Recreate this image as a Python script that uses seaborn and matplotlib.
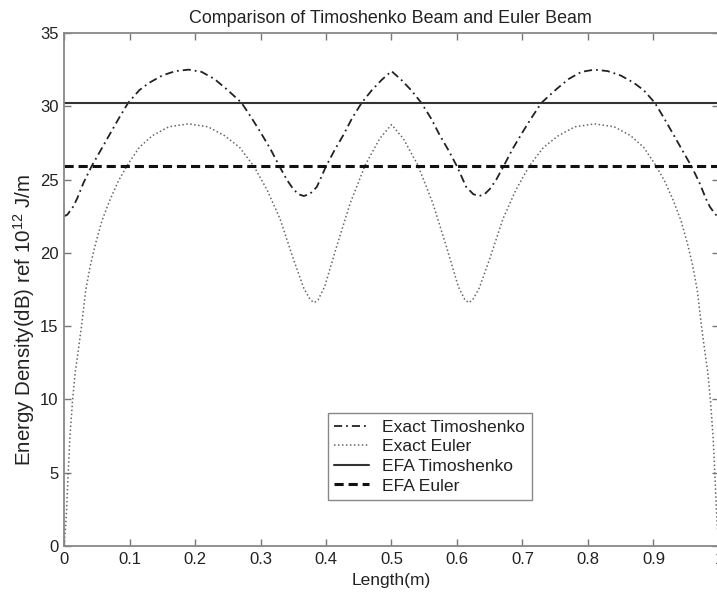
import matplotlib
matplotlib.use("Agg")
import matplotlib.pyplot as plt
import seaborn as sns
import numpy as np

# ---------------- data ----------------
timo_x = [0.000, 0.005, 0.010, 0.014, 0.020, 0.030, 0.042, 0.056, 0.070, 0.084, 0.098,
          0.115, 0.130, 0.150, 0.170, 0.190, 0.210, 0.230, 0.250, 0.271, 0.285, 0.299,
          0.315, 0.329, 0.340, 0.350, 0.358, 0.366, 0.375, 0.386, 0.400, 0.413, 0.426,
          0.440, 0.4545, 0.470, 0.485, 0.500,
          0.515, 0.530, 0.5455, 0.560, 0.574, 0.587, 0.600, 0.614, 0.625, 0.634, 0.642,
          0.650, 0.660, 0.671, 0.685, 0.701, 0.715, 0.729, 0.750, 0.770, 0.790, 0.810,
          0.830, 0.850, 0.870, 0.885, 0.902, 0.916, 0.930, 0.944, 0.958, 0.970, 0.980,
          0.986, 0.990, 0.995, 1.000]
timo_y = [22.5, 22.6, 22.9, 23.15, 23.7, 24.8, 25.9, 27.0, 28.1, 29.2, 30.24,
          31.1, 31.6, 32.1, 32.4, 32.5, 32.35, 31.85, 31.1, 30.24, 29.3, 28.3,
          27.1, 25.9, 25.0, 24.35, 24.0, 23.88, 24.0, 24.5, 25.9, 27.0, 28.0,
          29.2, 30.24, 31.1, 31.8, 32.4,
          31.8, 31.1, 30.24, 29.2, 28.0, 27.0, 25.9, 24.5, 24.0, 23.88, 24.0,
          24.35, 25.0, 25.9, 27.1, 28.3, 29.3, 30.24, 31.1, 31.85, 32.35, 32.5,
          32.4, 32.1, 31.6, 31.1, 30.24, 29.2, 28.1, 27.0, 25.9, 24.8, 23.7,
          23.15, 22.9, 22.6, 22.5]

euler_x = [0.000, 0.002, 0.004, 0.006, 0.009, 0.013, 0.017, 0.022, 0.027, 0.033, 0.040,
           0.048, 0.058, 0.070, 0.083, 0.097, 0.115, 0.135, 0.160, 0.190, 0.220, 0.245,
           0.268, 0.290, 0.310, 0.330, 0.350, 0.366, 0.376, 0.382, 0.388, 0.398, 0.416,
           0.437, 0.460, 0.482, 0.500,
           0.518, 0.540, 0.563, 0.584, 0.602, 0.612, 0.618, 0.624, 0.634, 0.650, 0.670,
           0.690, 0.710, 0.732, 0.755, 0.780, 0.810, 0.840, 0.865, 0.885, 0.903, 0.917,
           0.930, 0.942, 0.952, 0.960, 0.967, 0.973, 0.978, 0.983, 0.987, 0.991, 0.994,
           0.996, 0.998, 1.000]
euler_y = [0.0, 1.0, 2.5, 4.6, 7.4, 9.9, 11.8, 13.4, 15.1, 17.4, 19.1,
           20.6, 22.2, 23.6, 24.9, 26.0, 27.2, 28.0, 28.6, 28.8, 28.6, 28.0,
           27.2, 25.9, 24.3, 22.3, 19.6, 17.6, 16.8, 16.6, 16.8, 17.7, 20.4,
           23.4, 26.0, 27.8, 28.75,
           27.8, 26.0, 23.4, 20.4, 17.7, 16.8, 16.6, 16.8, 17.6, 19.6, 22.3,
           24.3, 25.9, 27.2, 28.0, 28.6, 28.8, 28.6, 28.0, 27.2, 26.0, 24.9,
           23.6, 22.2, 20.6, 19.1, 17.4, 15.1, 13.4, 11.8, 9.9, 7.4, 4.6,
           2.5, 1.0, 0.0]

efa_x = [0.0, 1.0]
efa_timo = [30.24, 30.24]
efa_euler = [25.9, 25.9]

x_ticks = [0, 0.1, 0.2, 0.3, 0.4, 0.5, 0.6, 0.7, 0.8, 0.9, 1]
x_tick_labels = ["0", "0.1", "0.2", "0.3", "0.4", "0.5", "0.6", "0.7", "0.8", "0.9", "1"]
y_ticks = [0, 5, 10, 15, 20, 25, 30, 35]

# ---------------- styling ----------------
sns.set_style("ticks")
plt.rcParams["font.family"] = ["Liberation Sans", "DejaVu Sans"]
plt.rcParams["mathtext.default"] = "regular"

W, H = 717, 595
fig = plt.figure(figsize=(W / 100, H / 100), dpi=100)
left_px, right_px, top_px, bottom_px = 64, 719, 33, 546
ax = fig.add_axes([left_px / W, (H - bottom_px) / H,
                   (right_px - left_px) / W, (bottom_px - top_px) / H])

sns.lineplot(x=timo_x, y=timo_y, ax=ax, color="#222222", lw=1.3,
             linestyle=(0, (4.5, 2.2, 1.0, 2.2)), label="Exact Timoshenko",
             sort=False, estimator=None)
sns.lineplot(x=euler_x, y=euler_y, ax=ax, color="#666666", lw=1.1,
             linestyle=(0, (1, 1.6)), label="Exact Euler",
             sort=False, estimator=None)
sns.lineplot(x=efa_x, y=efa_timo, ax=ax, color="#333333", lw=1.5,
             linestyle="-", label="EFA Timoshenko", estimator=None)
sns.lineplot(x=efa_x, y=efa_euler, ax=ax, color="#111111", lw=2.2,
             linestyle=(0, (3.0, 1.6)), label="EFA Euler", estimator=None)

ax.set_xlim(0, 1)
ax.set_ylim(0, 35)
ax.set_xticks(x_ticks)
ax.set_xticklabels(x_tick_labels)
ax.set_yticks(y_ticks)
ax.tick_params(direction="in", length=5, width=1, color="#777777",
               top=True, right=True, labelsize=12, pad=4, labelcolor="#222222")
for s in ax.spines.values():
    s.set_visible(True)
    s.set_color("#888888")
    s.set_linewidth(1.3)

ax.set_title("Comparison of Timoshenko Beam and Euler Beam", fontsize=12.9,
             color="#222222", pad=7, x=(390 - left_px) / (right_px - left_px))
ax.set_xlabel("Length(m)", fontsize=12.5, color="#222222", labelpad=5)
ax.set_ylabel("Energy Density(dB) ref 10$^{12}$ J/m", fontsize=14.8,
              color="#222222")
ax.yaxis.set_label_coords((37 - left_px) / (right_px - left_px),
                          (bottom_px - 320) / (bottom_px - top_px))

leg = ax.legend(loc="upper left", bbox_to_anchor=(0.403, 0.259), borderaxespad=0,
                fontsize=12.6, frameon=True, fancybox=False, framealpha=1,
                edgecolor="#888888", handlelength=2.0, handletextpad=0.75,
                labelspacing=0.25, borderpad=0.36)
leg.get_frame().set_linewidth(1.0)
for t in leg.get_texts():
    t.set_color("#222222")

fig.savefig("out.png", dpi=100)
